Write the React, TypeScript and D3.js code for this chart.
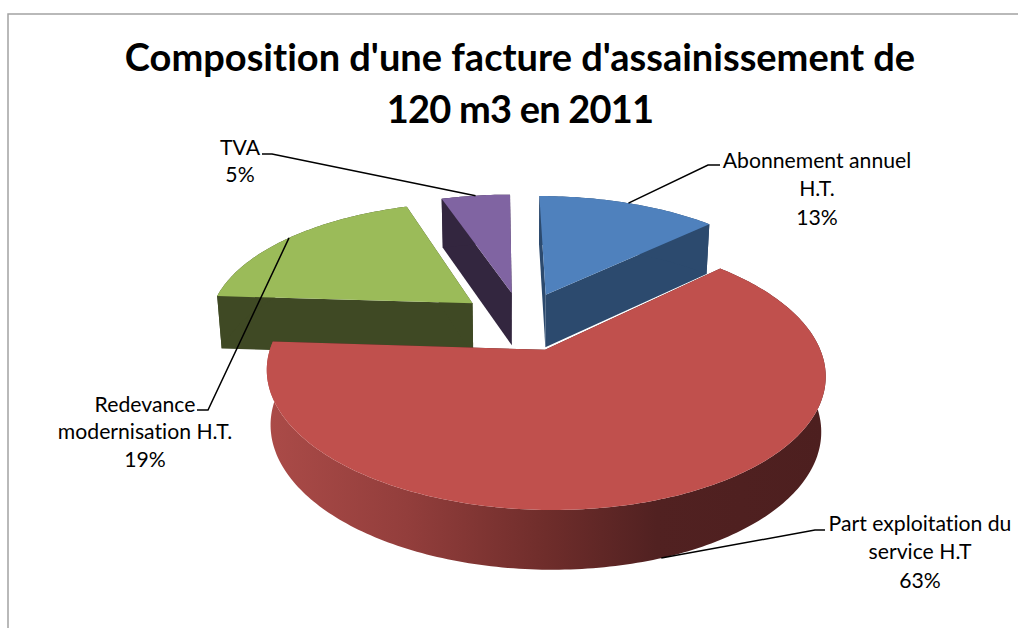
import * as d3 from 'd3';

const categories = ['Abonnement annuel H.T.', 'Part exploitation du service H.T', 'Redevance modernisation H.T.', 'TVA'];
const shares = [13, 63, 19, 5];
const topColors = ['#4f81bd', '#c0504d', '#9bbb59', '#8064a2'];
const sideColors = ['#2c4a6e', '#4f2020', '#3f4924', '#33263f'];
const titleLines = ["Composition d'une facture d'assainissement de", '120 m3 en 2011'];
const titleSpacing = [0, -0.8];

// label text and where it sits, in the same order as categories
const labelLines = [
  ['Abonnement annuel', 'H.T.', '13%'],
  ['Part exploitation du', 'service H.T', '63%'],
  ['Redevance', 'modernisation H.T.', '19%'],
  ['TVA', '5%'],
];
const labelX = [817, 920, 145, 240];
const labelY = [[168, 196, 225], [531, 559, 588], [412, 439, 467], [155, 182]];
const elbows = [[[720, 165], [708, 165]], [[825, 530], [815, 530]], [[197, 410], [208, 410]], [[262, 154], [272, 154]]];
const paintOrder = [3, 0, 2, 1];

// 3d pie camera, fitted on the picture
const cx = 522;
const cy = 321;
const radiusX = 265;
const radiusY = 123;
const persp = 0.165;
const thick = 53.4;
const explode = 0.24;
const shrink = 0.015;
const skew = 3;

const project = (X: number, Y: number, z: number): [number, number] => {
  const s = 1 / (1 + persp * Y);
  const sz = s / (1 + shrink * z);
  return [cx + radiusX * X * sz - skew * Y, cy - radiusY * Y * sz + thick * z * Math.pow(s, 0.7)];
};

const arcs = d3.pie<number>().sort(null).startAngle(0).endAngle(2 * Math.PI)(shares);
const line = d3.line();

const App = () => {
  const slices = arcs.map((a, i) => {
    const mid = (a.startAngle + a.endAngle) / 2;
    const ox = explode * Math.sin(mid);
    const oy = explode * Math.cos(mid);
    const rim = (t: number, z: number) => project(ox + Math.sin(t), oy + Math.cos(t), z);
    const apex = (z: number) => project(ox, oy, z);
    const steps = d3.range(a.startAngle, a.endAngle, Math.PI / 180).concat(a.endAngle);

    const top = line([apex(0), ...steps.map(t => rim(t, 0))]) + 'Z';
    const rimFace = line([...steps.map(t => rim(t, 0)), ...steps.slice().reverse().map(t => rim(t, 1))]) + 'Z';
    const cutA = line([apex(0), rim(a.startAngle, 0), rim(a.startAngle, 1), apex(1)]) + 'Z';
    const cutB = line([apex(0), rim(a.endAngle, 0), rim(a.endAngle, 1), apex(1)]) + 'Z';

    // leader goes to the middle of the slice, on the front rim for the big one
    const anchor = rim(mid, i === 1 ? 1 : 0);
    return { i, top, rimFace, cutA, cutB, anchor };
  });

  return (
    <svg
      width={1018}
      height={628}
      style={{ position: 'absolute', left: 0, top: 0, background: '#fff', fontVariantLigatures: 'none' }}
      fontFamily="Lato, sans-serif"
    >
      <defs>
        <linearGradient id="redRim" gradientUnits="userSpaceOnUse" x1={267} x2={824} y1={0} y2={0}>
          <stop offset="0" stopColor="#ab4b48" />
          <stop offset="0.25" stopColor="#933e3c" />
          <stop offset="0.5" stopColor="#6f2d2b" />
          <stop offset="0.7" stopColor="#512121" />
          <stop offset="1" stopColor="#4d1f1f" />
        </linearGradient>
      </defs>

      <path d="M8,628V14H1018" fill="none" stroke="#a3a3a3" strokeWidth={1.5} />

      {titleLines.map((t, k) => (
        <text key={t} x={520} y={71 + k * 52} textAnchor="middle" fontSize={38} fontWeight={700} letterSpacing={titleSpacing[k]} fill="#000">
          {t}
        </text>
      ))}

      {paintOrder.map(idx => {
        const s = slices[idx];
        return (
          <g key={categories[idx]}>
            <path d={s.cutA} fill={sideColors[idx]} />
            <path d={s.cutB} fill={sideColors[idx]} />
            <path d={s.rimFace} fill={idx === 1 ? 'url(#redRim)' : sideColors[idx]} />
            <path d={s.top} fill={topColors[idx]} />
          </g>
        );
      })}

      {slices.map(s => (
        <polyline
          key={s.i}
          points={[...elbows[s.i], s.anchor].map(p => p.join(',')).join(' ')}
          fill="none"
          stroke="#000"
          strokeWidth={1.5}
        />
      ))}

      {labelLines.map((lines, i) =>
        lines.map((t, k) => (
          <text key={t} x={labelX[i]} y={labelY[i][k]} textAnchor="middle" fontSize={21.2} fill="#000">
            {t}
          </text>
        ))
      )}
    </svg>
  );
};

export default App;
